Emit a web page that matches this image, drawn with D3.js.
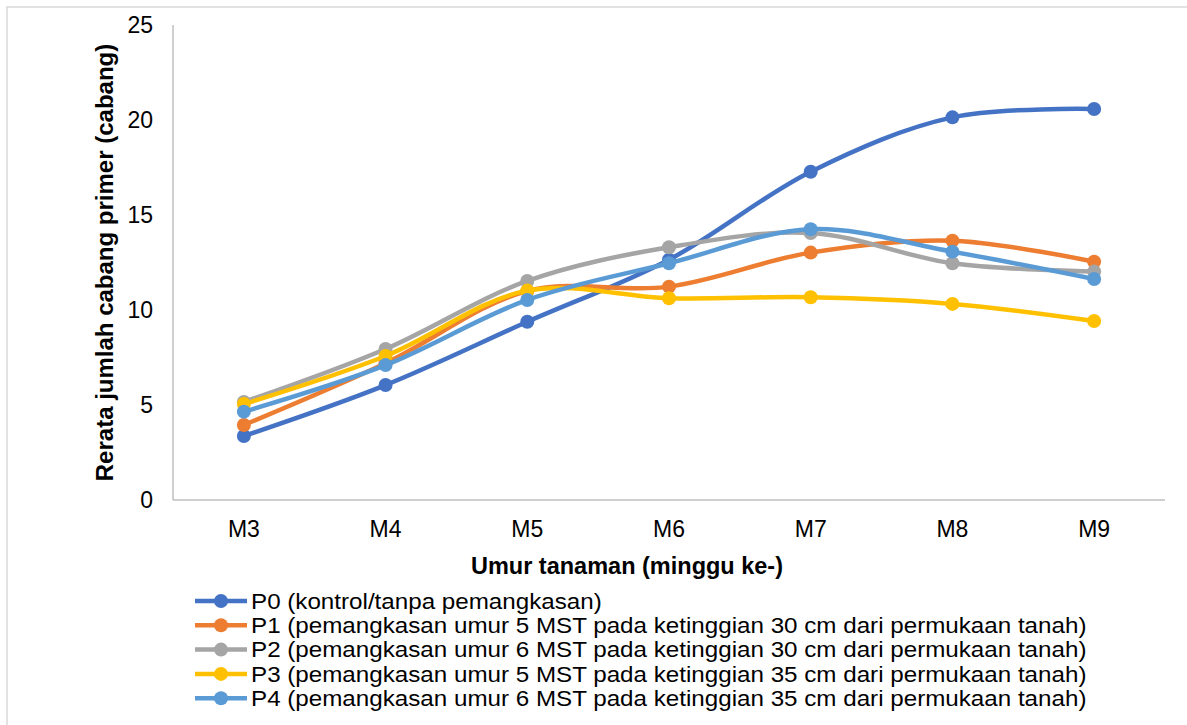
<!DOCTYPE html>
<html>
<head>
<meta charset="utf-8">
<script src="https://cdn.jsdelivr.net/npm/d3@7/dist/d3.min.js"></script>
<style>
  html, body { margin: 0; padding: 0; background: #fff; }
  svg { display: block; font-family: "Liberation Sans", Arial, sans-serif; }
</style>
</head>
<body>
<svg id="chart" width="1187" height="725"></svg>
<script>
const categories = ["M3", "M4", "M5", "M6", "M7", "M8", "M9"];
const yTicks = [0, 5, 10, 15, 20, 25];
const seriesNames = [
  "P0 (kontrol/tanpa pemangkasan)",
  "P1 (pemangkasan umur 5 MST pada ketinggian 30 cm dari permukaan tanah)",
  "P2 (pemangkasan umur 6 MST pada ketinggian 30 cm dari permukaan tanah)",
  "P3 (pemangkasan umur 5 MST pada ketinggian 35 cm dari permukaan tanah)",
  "P4 (pemangkasan umur 6 MST pada ketinggian 35 cm dari permukaan tanah)"
];
const P0 = [3.37, 6.05, 9.38, 12.65, 17.28, 20.14, 20.58];
const P1 = [3.95, 7.2, 11.0, 11.23, 13.02, 13.65, 12.54];
const P2 = [5.16, 7.95, 11.53, 13.3, 14.05, 12.46, 12.02];
const P3 = [5.05, 7.58, 11.02, 10.62, 10.67, 10.32, 9.42];
const P4 = [4.65, 7.1, 10.53, 12.46, 14.25, 13.07, 11.63];
const seriesValues = [P0, P1, P2, P3, P4];
const colors = ["#4472C4", "#ED7D31", "#A5A5A5", "#FFC000", "#5B9BD5"];
const yTitle = "Rerata jumlah cabang primer (cabang)";
const xTitle = "Umur tanaman (minggu ke-)";

const svg = d3.select("#chart");
const FONT = "'Liberation Sans', Arial, sans-serif";

// outer chart border (partially off-canvas)
svg.append("rect")
  .attr("x", 7).attr("y", 7).attr("width", 1300).attr("height", 800)
  .attr("fill", "none").attr("stroke", "#d9d9d9").attr("stroke-width", 1.5);

const plot = { left: 173, right: 1165, top: 25, bottom: 500 };

const x = d3.scaleBand().domain(categories).range([plot.left, plot.right]);
const y = d3.scaleLinear().domain([0, 25]).range([plot.bottom, plot.top]);
const cx = c => x(c) + x.bandwidth() / 2;

// axes
const xAxis = svg.append("g").attr("transform", `translate(0,${plot.bottom})`)
  .call(d3.axisBottom(x).tickSize(0).tickPadding(21));
xAxis.select(".domain").attr("stroke", "#bfbfbf").attr("stroke-width", 1.5)
  .attr("d", `M${plot.left},0H${plot.right}`);
xAxis.selectAll("text").attr("font-size", 23).attr("fill", "#000")
  .attr("font-family", FONT);

const yAxis = svg.append("g").attr("transform", `translate(${plot.left},0)`)
  .call(d3.axisLeft(y).tickValues(yTicks).tickSize(0).tickPadding(20));
yAxis.select(".domain").attr("stroke", "#bfbfbf").attr("stroke-width", 1.5)
  .attr("d", `M0,${plot.top}V${plot.bottom}`);
yAxis.selectAll("text").attr("font-size", 23).attr("fill", "#000")
  .attr("font-family", FONT);

// axis titles
svg.append("text")
  .attr("transform", `translate(113,${(plot.top + plot.bottom) / 2}) rotate(-90)`)
  .attr("text-anchor", "middle")
  .attr("font-size", 24).attr("font-weight", "bold")
  .text(yTitle);
svg.append("text")
  .attr("x", 627).attr("y", 574)
  .attr("text-anchor", "middle")
  .attr("font-size", 23.5).attr("font-weight", "bold")
  .text(xTitle);

// lines
const line = d3.line()
  .x((d, i) => cx(categories[i]))
  .y(d => y(d))
  .curve(d3.curveCatmullRom.alpha(0.5));

seriesValues.forEach((vals, si) => {
  const g = svg.append("g");
  g.append("path").datum(vals)
    .attr("d", line)
    .attr("fill", "none")
    .attr("stroke", colors[si])
    .attr("stroke-width", 4.5)
    .attr("stroke-linejoin", "round");
  g.selectAll("circle").data(vals).join("circle")
    .attr("cx", (d, i) => cx(categories[i]))
    .attr("cy", d => y(d))
    .attr("r", 7)
    .attr("fill", colors[si]);
});

// legend
const leg = svg.append("g");
seriesNames.forEach((name, i) => {
  const yy = 601 + i * 24.3;
  leg.append("line").attr("x1", 195).attr("x2", 247).attr("y1", yy).attr("y2", yy)
    .attr("stroke", colors[i]).attr("stroke-width", 4.5);
  leg.append("circle").attr("cx", 221).attr("cy", yy).attr("r", 7).attr("fill", colors[i]);
  leg.append("text")
    .attr("transform", `translate(251,${yy}) scale(1.152,1.04)`)
    .attr("dy", "0.35em")
    .attr("font-size", 21).attr("fill", "#000").text(name);
});
</script>
</body>
</html>
